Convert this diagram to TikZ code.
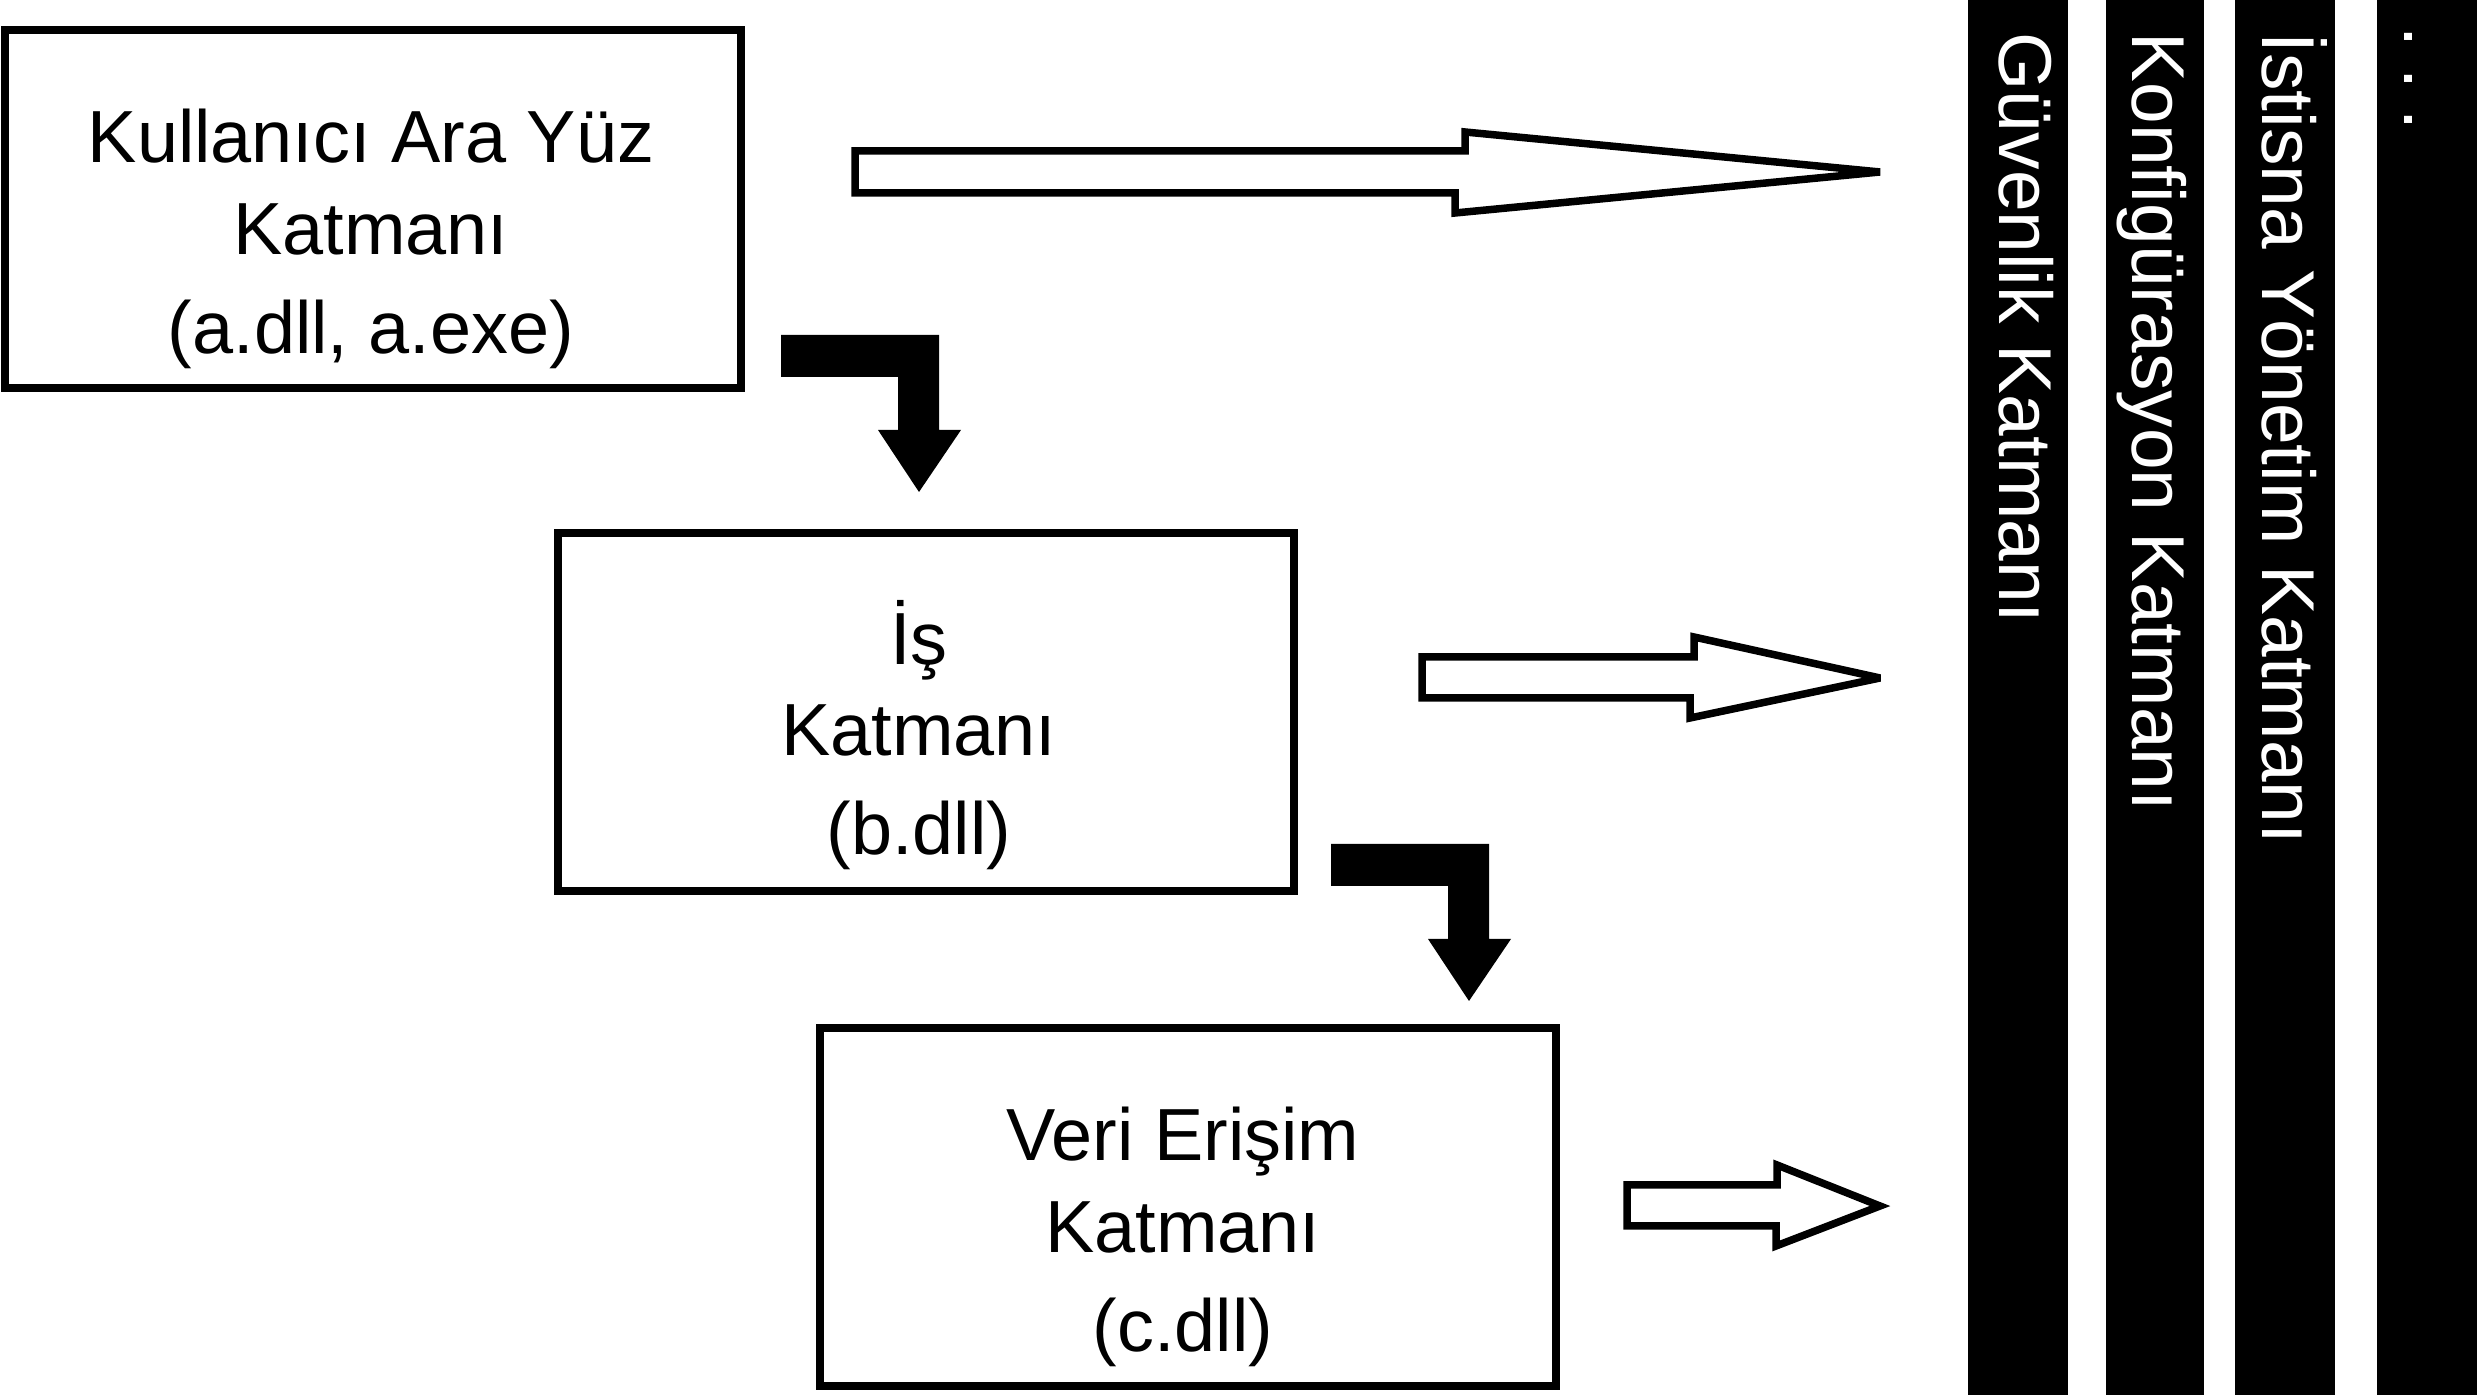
\documentclass[tikz,border=0pt]{standalone}
\usepackage{fontspec}
\setmainfont{Liberation Sans}

\begin{document}
\begin{tikzpicture}[x=0.01cm, y=-0.01cm,
  every node/.style={font=\fontsize{21pt}{25.9pt}\selectfont, inner sep=0pt},
  layer/.style={draw, line width=0.08cm, minimum width=7.36cm, minimum height=3.58cm},
  layertext/.style={align=center},
  bartext/.style={white, rotate=-90, anchor=base west, font=\fontsize{21.3pt}{25.9pt}\selectfont\frenchspacing},
  hollow/.style={draw, line width=0.075cm, line join=miter, miter limit=4}]
  \useasboundingbox (0,0) rectangle (2477,1395);
  % layers
  \node[layer] (ui) at (373,209) {};
  \node[layer] (biz) at (926,712) {};
  \node[layer] (data) at (1188,1207) {};
  \node[layertext] (uitxt) at ([xshift=-0.02cm, yshift=-0.30cm]ui.center) {Kullanıcı Ara Yüz\\Katmanı\\[2.3pt](a.dll, a.exe)};
  \node[layertext] (biztxt) at ([xshift=-0.07cm, yshift=-0.23cm]biz.center) {İş\\Katmanı\\[2.3pt](b.dll)};
  \node[layertext] (datatxt) at ([xshift=-0.05cm, yshift=-0.30cm]data.center) {Veri Erişim\\Katmanı\\[2.3pt](c.dll)};
  % bent arrows
  \foreach \x/\y in {781/335, 1331/844}
    \fill (\x,\y) -- ++(158,0) -- ++(0,95) -- ++(22,0) -- ++(-42,62) -- ++(-41,-62) -- ++(20,0) -- ++(0,-53) -- ++(-117,0) -- cycle;
  % hollow arrows
  \draw[hollow] (855,151) -- (1465,151) -- (1465,132) -- (1880,172) -- (1455,213) -- (1455,193) -- (855,193) -- cycle;
  \draw[hollow] (1422,657) -- (1694,657) -- (1694,637) -- (1880,678) -- (1690,718) -- (1690,698) -- (1422,698) -- cycle;
  \draw[hollow] (1627,1185) -- (1777,1185) -- (1777,1165) -- (1880,1206) -- (1776,1246) -- (1776,1226) -- (1627,1226) -- cycle;
  % cross-cutting bars
  \foreach \x/\w in {1968/100, 2106/98, 2235/100, 2377/100}
    \fill (\x,0) rectangle ++(\w,1395);
  \node[bartext] (sec) at (1999,32) {Güvenlik Katmanı};
  \node[bartext] (conf) at (2132,32) {Konfigürasyon Katmanı};
  \node[bartext] (exc) at (2262,32) {İstisna Yönetim Katmanı};
  \node[bartext] (more) at (2404,26) {. . .};
\end{tikzpicture}
\end{document}
